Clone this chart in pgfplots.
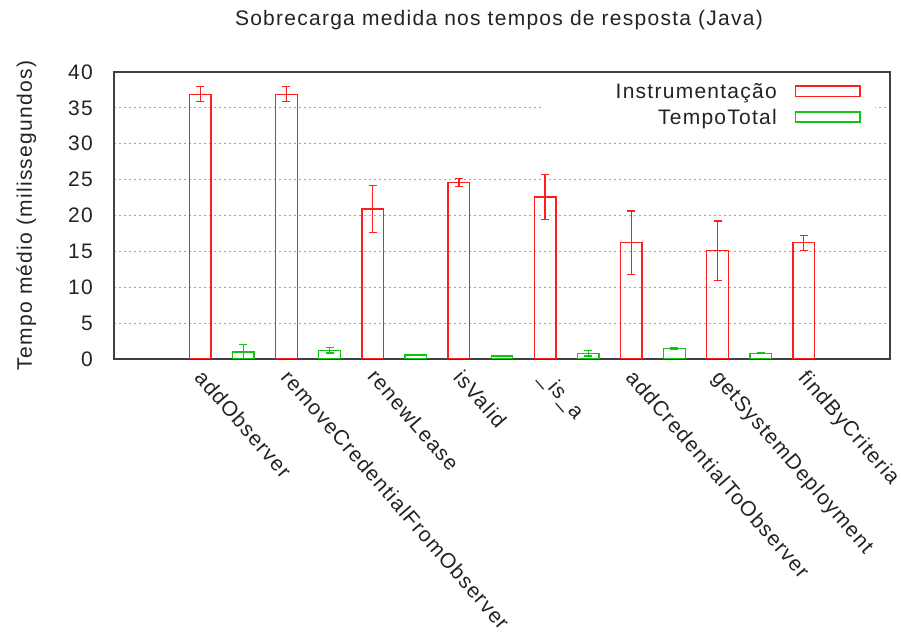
\documentclass[border=0pt]{standalone}
\usepackage{fontspec}
\setmainfont{Liberation Sans}[LetterSpace=6]
\usepackage{pgfplots}
\usepackage{pgfplotstable}
\pgfplotsset{compat=1.18}
\definecolor{gred}{RGB}{255,30,30}
\definecolor{ggreen}{RGB}{20,195,20}
\definecolor{ggrid}{RGB}{165,165,165}
\definecolor{txt}{RGB}{35,35,35}

\pgfplotstableread{
x    y     e
0    36.9  1.05
1    36.9  1.05
2    20.9  3.25
3    24.6  0.55
4    22.6  3.15
5    16.2  4.45
6    15.1  4.15
7    16.2  1.05
}\instr
\pgfplotstableread{
x    y     e
0.5  1.00  1.00
1.5  1.20  0.37
2.5  0.56  0.03
3.5  0.42  0.10
4.5  0.80  0.40
5.5  1.44  0.10
6.5  0.80  0.03
}\total

\newcommand{\legbox}[1]{\textcolor{#1}{\rule[1.4pt]{1.4pt}{11.6pt}\rule[1.4pt]{63.2pt}{1.4pt}\llap{\rule[11.6pt]{63.2pt}{1.4pt}}\rule[1.4pt]{1.4pt}{11.6pt}}}
\newcommand{\legtxt}[2]{\makebox[221pt][r]{\rule[-5pt]{0pt}{23pt}#1}\hspace{18pt}\legbox{#2}}

\begin{document}
\fontsize{21pt}{25pt}\selectfont
\begin{tikzpicture}[x=1pt,y=1pt,font=\fontsize{21pt}{25pt}\selectfont]
\useasboundingbox (0,0) rectangle (902,634);
\begin{axis}[
  at={(114pt,275pt)}, anchor=south west,
  scale only axis, width=776pt, height=287pt,
  xmin=-1, xmax=8, ymin=0, ymax=40,
  ybar, bar width=0.25,
  xtick={0,...,7},
  xticklabels={addObserver,removeCredentialFromObserver,renewLease,isValid,\_is\_a,addCredentialToObserver,getSystemDeployment,findByCriteria},
  xticklabel style={xshift=5pt, yshift=-9pt, rotate=-49, anchor=north west, inner sep=0pt, text=txt},
  ytick={0,5,...,40},
  yticklabel style={inner sep=0pt, xshift=-21pt, text=txt},
  /pgf/number format/assume math mode=true,
  major tick length=0pt,
  ymajorgrids,
  grid style={ggrid, dash pattern=on 2pt off 3pt, line width=1pt},
  axis line style={line width=1.3pt, black!75},
  title={Sobrecarga medida nos tempos de resposta (Java)},
  title style={at={(axis description cs:0.4961,1.1422)}, anchor=base, inner sep=0pt, text=txt},
  ylabel={Tempo médio (milissegundos)},
  ylabel style={at={(axis description cs:-0.09987,0.5)}, anchor=south, inner sep=0pt, text=txt},
  legend plot pos=none,
  legend cell align=right,
  legend style={at={(axis description cs:0.9807,0.9794)}, anchor=north east,
    draw=none, fill=white, inner xsep=14pt, inner ysep=0pt,
    row sep=0pt, column sep=0pt,
    nodes={inner xsep=0pt, inner ysep=2.3pt, text=txt}},
]
\addplot[draw=gred, fill=none, line width=1.4pt, bar shift=0pt,
  error bars/.cd, y dir=both, y explicit,
  error bar style={gred, line width=1.4pt},
  error mark options={gred, line width=1.4pt, mark size=4pt, rotate=90}]
  table[x=x, y=y, y error=e] {\instr};
\addlegendentry{\legtxt{Instrumentação}{gred}}
\addplot[draw=ggreen, fill=none, line width=1.4pt, bar shift=0pt,
  error bars/.cd, y dir=both, y explicit,
  error bar style={ggreen, line width=1.4pt},
  error mark options={ggreen, line width=1.4pt, mark size=4pt, rotate=90}]
  table[x=x, y=y, y error=e] {\total};
\addlegendentry{\legtxt{TempoTotal}{ggreen}}
\end{axis}
\end{tikzpicture}
\end{document}
